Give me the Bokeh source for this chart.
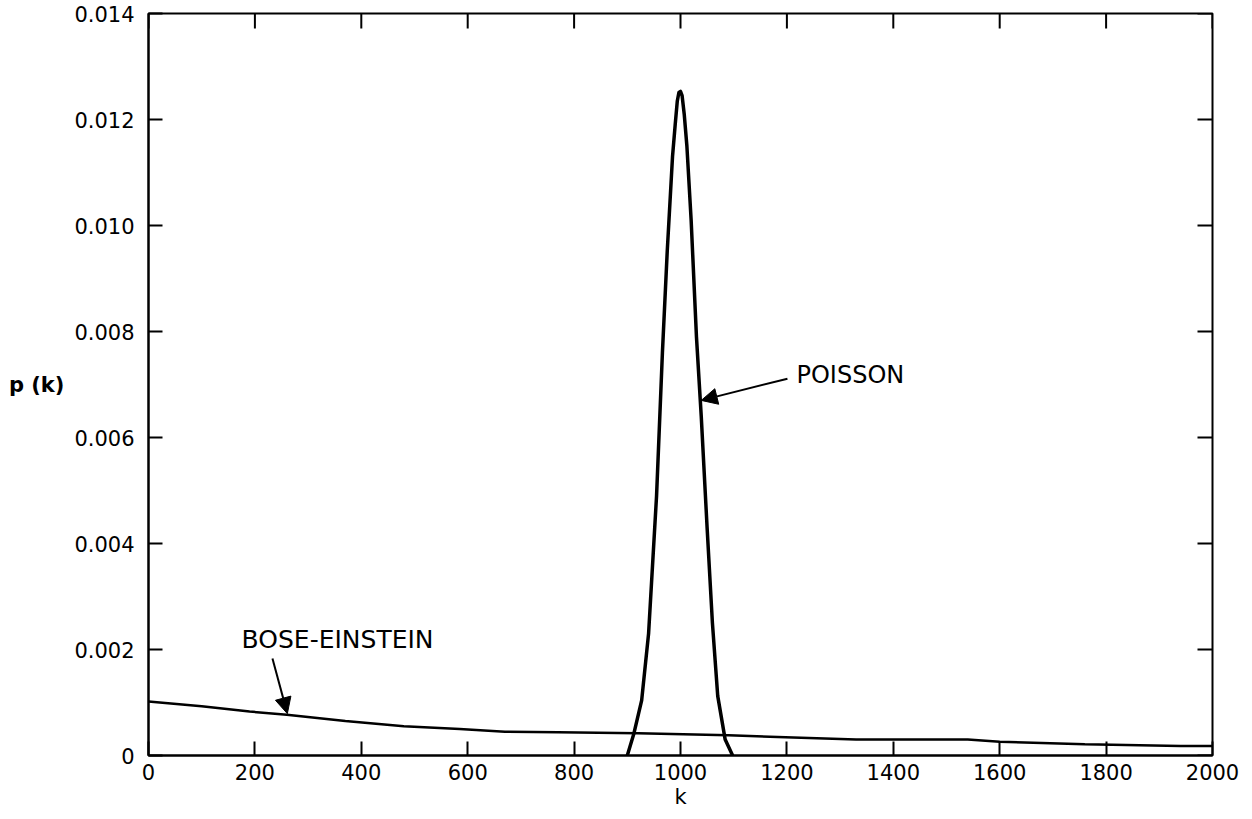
from bokeh.plotting import figure
from bokeh.models import (Range1d, FixedTicker, Label, Arrow, NormalHead)
from bokeh.embed import file_html
from bokeh.resources import INLINE

# ---- data ----
k_ticks = [0, 200, 400, 600, 800, 1000, 1200, 1400, 1600, 1800, 2000]
p_ticks = [0, 0.002, 0.004, 0.006, 0.008, 0.010, 0.012, 0.014]
p_tick_labels = ["0", "0.002", "0.004", "0.006", "0.008", "0.010", "0.012", "0.014"]

poisson_k = [900, 912, 927, 940, 955, 966, 975, 985, 990, 994, 997, 1000, 1003, 1007,
             1012, 1020, 1030, 1039, 1050, 1060, 1070, 1084, 1098]
poisson_p = [0.0, 0.0004, 0.00104, 0.0023, 0.0049, 0.0076, 0.0095, 0.0113, 0.0119,
             0.01235, 0.01251, 0.01253, 0.01245, 0.0121, 0.0115, 0.0101, 0.0079, 0.0064,
             0.0043, 0.0025, 0.00112, 0.0003, 0.0]

bose_k = [0, 100, 190, 260, 370, 480, 585, 670, 770, 920, 1090, 1330, 1540, 1600,
          1760, 1940, 2000]
bose_p = [0.00102, 0.00093, 0.00083, 0.00077, 0.00065, 0.00055, 0.0005, 0.00045,
          0.00044, 0.00042, 0.00038, 0.0003, 0.0003, 0.00026, 0.00021, 0.00018,
          0.00018]

FONT = "DejaVu Sans"
K_MIN, K_MAX = 0, 2000
P_MIN, P_MAX = 0, 0.014

p = figure(width=1244, height=811, x_range=Range1d(K_MIN, K_MAX), y_range=Range1d(P_MIN, P_MAX),
           output_backend="svg", toolbar_location=None,
           min_border_left=148, min_border_right=32, min_border_top=13, min_border_bottom=56,
           x_axis_label="k", y_axis_label="p (k)")
p.grid.visible = False
p.outline_line_color = "black"
p.outline_line_width = 2
p.background_fill_color = "white"
p.border_fill_color = "white"

def style_axis(ax):
    ax.axis_line_width = 2
    ax.axis_line_color = "black"
    ax.major_tick_in = 14
    ax.major_tick_out = 0
    ax.major_tick_line_width = 2
    ax.major_tick_line_color = "black"
    ax.minor_tick_line_color = None
    ax.major_label_text_font = FONT
    ax.major_label_text_color = "black"
    ax.major_label_text_font_size = "21px"
    ax.axis_label_text_font = FONT
    ax.axis_label_text_color = "black"

xax = p.xaxis[0]
xax.ticker = FixedTicker(ticks=k_ticks)
style_axis(xax)
xax.major_label_standoff = 8
xax.axis_label_text_font_size = "21px"
xax.axis_label_text_font_style = "normal"
xax.axis_label_standoff = 2

yax = p.yaxis[0]
yax.ticker = FixedTicker(ticks=p_ticks)
yax.major_label_overrides = {t: s for t, s in zip(p_ticks, p_tick_labels)}
style_axis(yax)
yax.major_label_standoff = 14
yax.axis_label_text_font_size = "21px"
yax.axis_label_text_font_style = "bold"
yax.axis_label_standoff = 7
if "axis_label_orientation" in yax.properties():
    yax.axis_label_orientation = "horizontal"

# inward ticks on the top and right edges of the box
dy = (P_MAX - P_MIN) * 15 / 742
dx = (K_MAX - K_MIN) * 15 / 1064
p.segment(x0=k_ticks, y0=[P_MAX] * len(k_ticks), x1=k_ticks, y1=[P_MAX - dy] * len(k_ticks),
          line_color="black", line_width=2)
p.segment(x0=[K_MAX] * len(p_ticks), y0=p_ticks, x1=[K_MAX - dx] * len(p_ticks), y1=p_ticks,
          line_color="black", line_width=2)

p.line(bose_k, bose_p, line_color="black", line_width=2.5)
p.line(poisson_k, poisson_p, line_color="black", line_width=3.5, line_join="round")

# annotations
p.add_layout(Label(x=1218, y=0.00717, text="POISSON", text_font=FONT, text_font_size="24px",
                   text_align="left", text_baseline="middle", text_color="black"))
p.add_layout(Label(x=175, y=0.00219, text="BOSE-EINSTEIN", text_font=FONT,
                   text_font_size="25px", text_align="left", text_baseline="middle",
                   text_color="black"))

p.add_layout(Arrow(end=NormalHead(size=16, fill_color="black", line_color="black"),
                   x_start=1201, y_start=0.00711, x_end=1039, y_end=0.0067,
                   line_color="black", line_width=2))
p.add_layout(Arrow(end=NormalHead(size=16, fill_color="black", line_color="black"),
                   x_start=233, y_start=0.00183, x_end=261, y_end=0.00079,
                   line_color="black", line_width=2))

open("out.html", "w").write(file_html(p, INLINE))
